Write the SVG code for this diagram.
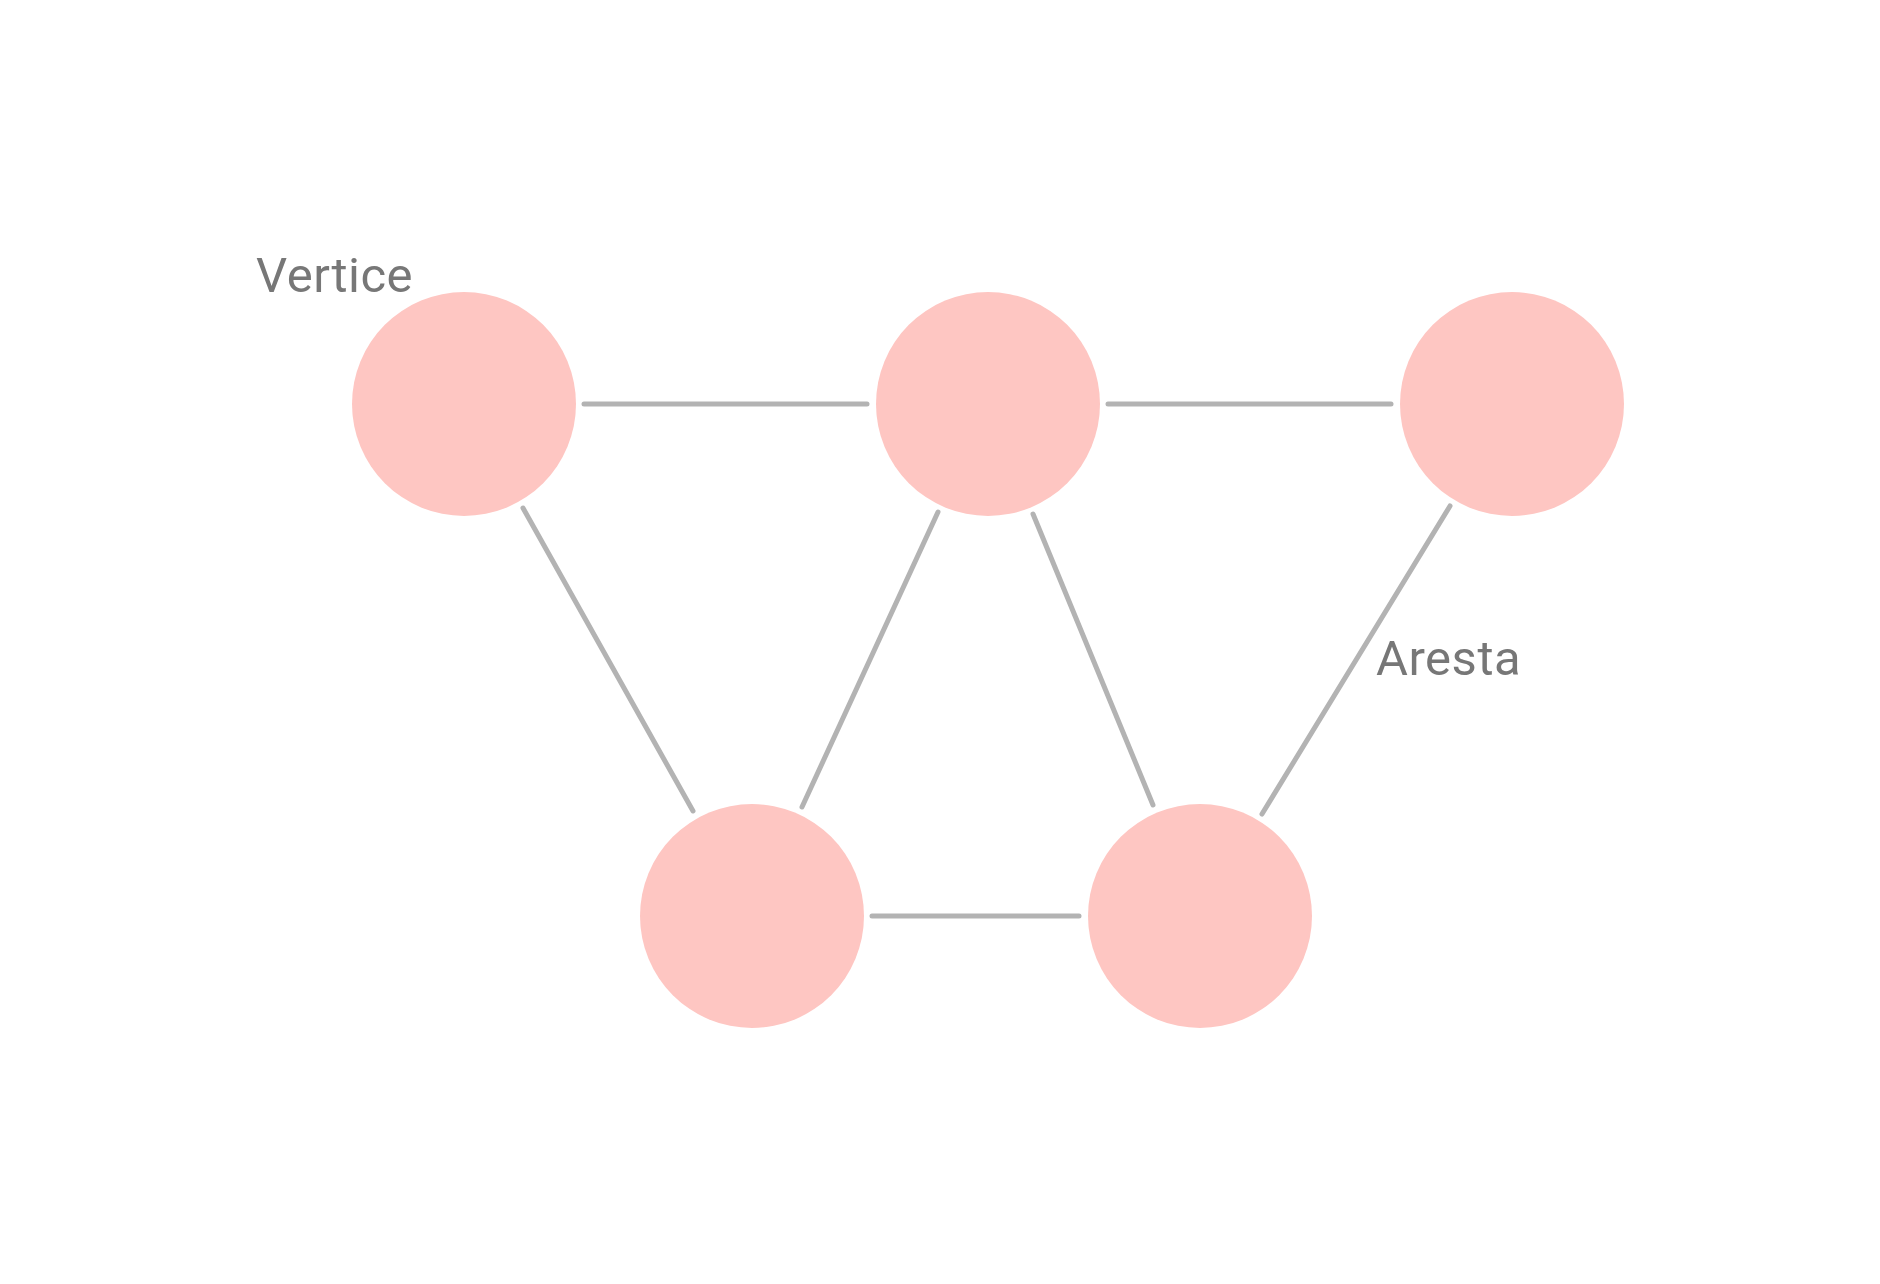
<svg xmlns="http://www.w3.org/2000/svg" width="1880" height="1284" viewBox="0 0 1880 1284">
<style>
.node{fill:#fec6c2}
.edge{stroke:#b3b3b3;stroke-width:5;stroke-linecap:round;fill:none}
.lbl{font-family:Roboto,"Liberation Sans",sans-serif;font-size:49px;fill:#777777;letter-spacing:0.5px}
</style>
<rect width="1880" height="1284" fill="#ffffff"/>
<g id="connectors">
<line class="edge" x1="584" y1="404" x2="867" y2="404"/>
<line class="edge" x1="1108" y1="404" x2="1391" y2="404"/>
<line class="edge" x1="872" y1="916" x2="1079" y2="916"/>
<line class="edge" x1="523" y1="508" x2="693" y2="811"/>
<line class="edge" x1="938" y1="512" x2="802" y2="807"/>
<line class="edge" x1="1033" y1="514" x2="1153" y2="805"/>
<line class="edge" x1="1450" y1="506" x2="1262" y2="814"/>
</g>
<g id="n1"><circle class="node" cx="464" cy="404" r="112"/></g>
<g id="n2"><circle class="node" cx="988" cy="404" r="112"/></g>
<g id="n3"><circle class="node" cx="1512" cy="404" r="112"/></g>
<g id="n4"><circle class="node" cx="752" cy="916" r="112"/></g>
<g id="n5"><circle class="node" cx="1200" cy="916" r="112"/></g>
<g id="label-vertice"><text class="lbl" x="256" y="292">Vertice</text></g>
<g id="label-aresta"><text class="lbl" x="1376" y="675">Aresta</text></g>
</svg>
